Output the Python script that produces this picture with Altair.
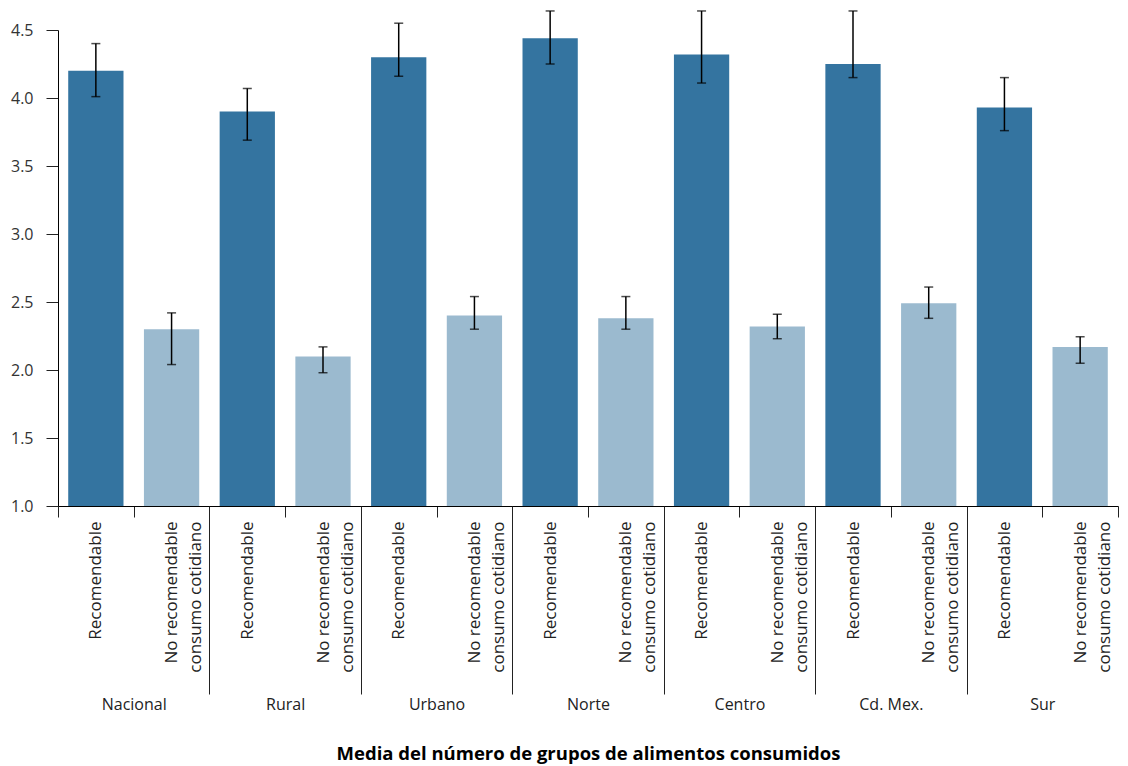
import json
import altair as alt
import pandas as pd

groups = ["Nacional", "Rural", "Urbano", "Norte", "Centro", "Cd. Mex.", "Sur"]
categories = ["Recomendable", "No recomendable consumo cotidiano"]
category_lines = [["Recomendable"], ["No recomendable", "consumo cotidiano"]]

rec_mean = [4.20, 3.90, 4.30, 4.44, 4.32, 4.25, 3.93]
rec_lo = [4.01, 3.69, 4.16, 4.25, 4.11, 4.15, 3.76]
rec_hi = [4.40, 4.07, 4.55, 4.64, 4.64, 4.64, 4.15]

nr_mean = [2.30, 2.10, 2.40, 2.38, 2.32, 2.49, 2.17]
nr_lo = [2.04, 1.98, 2.30, 2.30, 2.23, 2.38, 2.05]
nr_hi = [2.42, 2.17, 2.54, 2.54, 2.41, 2.61, 2.245]

y_ticks = [1.0, 1.5, 2.0, 2.5, 3.0, 3.5, 4.0, 4.5]
x_title = "Media del número de grupos de alimentos consumidos"

colors = ["#3474a0", "#9bbacf"]

rows = []
for gi, g in enumerate(groups):
    for ci, c in enumerate(categories):
        idx = gi * 2 + ci
        mean = rec_mean[gi] if ci == 0 else nr_mean[gi]
        lo = rec_lo[gi] if ci == 0 else nr_lo[gi]
        hi = rec_hi[gi] if ci == 0 else nr_hi[gi]
        rows.append({
            "grupo": g, "categoria": c, "idx": idx,
            "x0": idx + 0.135, "x1": idx + 0.865, "xc": idx + 0.5,
            "media": mean, "lo": lo, "hi": hi,
        })
df = pd.DataFrame(rows)

FONT = "Open Sans"
n = len(groups) * 2
xscale = alt.Scale(domain=[0, n], nice=False, zero=False)
yscale = alt.Scale(domain=[y_ticks[0], y_ticks[-1]], nice=False, zero=False)

y_axis = alt.Axis(values=y_ticks, format=".1f", tickSize=12, labelPadding=13,
                  grid=False, domainColor="#000000", tickColor="#222222",
                  labelColor="#333333", labelFont=FONT, labelFontSize=16,
                  title=None, domainWidth=1, tickWidth=1)

base = alt.Chart(df)

bars = base.mark_bar().encode(
    x=alt.X("x0:Q", scale=xscale,
            axis=alt.Axis(orient="bottom", values=list(range(n + 1)), tickSize=11,
                          labels=False, domain=True, domainColor="#000000",
                          tickColor="#222222", grid=False, title=None)),
    x2="x1:Q",
    y=alt.Y("media:Q", scale=yscale, axis=y_axis),
    y2=alt.datum(y_ticks[0]),
    color=alt.Color("categoria:N", scale=alt.Scale(domain=categories, range=colors), legend=None),
)

cat_expr = f"{json.dumps(category_lines)}[floor(datum.value) % 2]"
err = base.mark_rule(color="#000000", strokeWidth=1.5).encode(
    x=alt.X("xc:Q", scale=xscale,
            axis=alt.Axis(orient="bottom", values=[i + 0.5 for i in range(n)], ticks=False,
                          domain=False, grid=False, labelAngle=270, labelAlign="right",
                          labelBaseline="middle", labelPadding=15, labelExpr=cat_expr,
                          labelFont=FONT, labelFontSize=17, labelLineHeight=24,
                          labelColor="#222222", labelOverlap=False, labelFlush=False,
                          labelBound=False, title=None)),
    y=alt.Y("lo:Q", scale=yscale, axis=y_axis),
    y2="hi:Q",
)

grp_expr = f"{json.dumps(groups)}[floor(datum.value / 2)]"
caps_lo = base.mark_tick(color="#000000", orient="horizontal", size=9, thickness=1.5).encode(
    x=alt.X("xc:Q", scale=xscale,
            axis=alt.Axis(orient="bottom", values=[2 * i + 1 for i in range(len(groups))],
                          ticks=False, domain=False, grid=False, labelPadding=190,
                          labelBaseline="top", labelExpr=grp_expr, labelFont=FONT,
                          labelFontSize=16, labelColor="#222222", labelOverlap=False,
                          labelFlush=False, title=x_title, titleFont=FONT,
                          titleFontSize=18.5, titleFontWeight="bold", titleColor="#000000",
                          titlePadding=38)),
    y=alt.Y("lo:Q", scale=yscale, axis=y_axis),
)

caps_hi = base.mark_tick(color="#000000", orient="horizontal", size=9, thickness=1.5).encode(
    x=alt.X("xc:Q", scale=xscale,
            axis=alt.Axis(orient="bottom", values=[2 * i for i in range(1, len(groups))],
                          tickSize=188, tickColor="#222222", labels=False, domain=False,
                          grid=False, title=None)),
    y=alt.Y("hi:Q", scale=yscale, axis=y_axis),
)

chart = alt.layer(bars, err, caps_lo, caps_hi).resolve_scale(
    x="shared", y="shared"
).resolve_axis(x="independent", y="shared").properties(
    width=1060, height=476, background="#ffffff",
    padding={"top": 2, "left": 2, "right": 0, "bottom": 6},
    view=alt.ViewBackground(stroke=None, strokeWidth=0),
).configure_view(strokeWidth=0, stroke=None).configure_axis(grid=False)

chart.save("out.html", embed_options={"renderer": "svg", "actions": False})
